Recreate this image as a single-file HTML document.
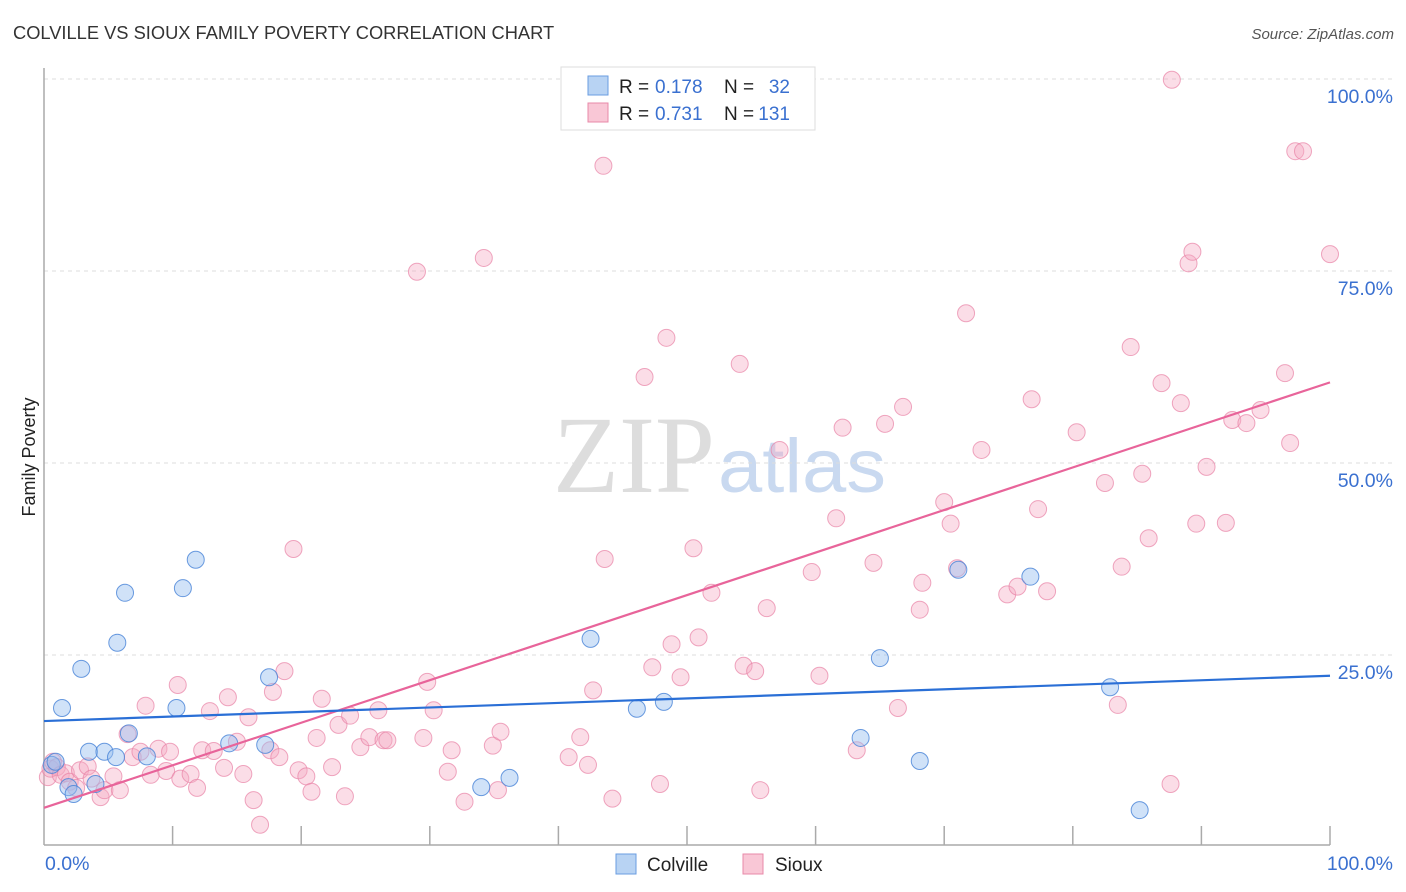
<!DOCTYPE html>
<html><head><meta charset="utf-8"><style>
body{margin:0;background:#fff;font-family:"Liberation Sans",sans-serif;}
svg{display:block}
</style></head><body>
<svg id="chart" width="1406" height="892">
<text x="13" y="39" font-size="18.3" fill="#333">COLVILLE VS SIOUX FAMILY POVERTY CORRELATION CHART</text>
<text x="1394" y="39" font-size="15" fill="#555" font-style="italic" text-anchor="end">Source: ZipAtlas.com</text>
<text x="35" y="457" font-size="18" fill="#222" text-anchor="middle" transform="rotate(-90 35 457)">Family Poverty</text>
<g>
<text x="553" y="492" font-size="110" font-family="Liberation Serif,serif" fill="#ddd" textLength="162" lengthAdjust="spacingAndGlyphs">ZIP</text>
<text x="718" y="492" font-size="76" fill="#c9d9f0" textLength="168" lengthAdjust="spacingAndGlyphs">atlas</text>
</g>
<g id="grid"></g>
<g id="axes"></g>
<g id="marks"></g>
<g>
<rect x="561" y="67" width="254" height="63" fill="#fff" stroke="#ddd"/>
<rect x="588" y="76" width="20" height="19" fill="#b8d3f3" stroke="#6a9de0"/>
<rect x="588" y="103" width="20" height="19" fill="#f9c7d6" stroke="#e88aa8"/>
<text x="619" y="93" font-size="19" fill="#222">R =</text>
<text x="655" y="93" font-size="19" fill="#3a70d0">0.178</text>
<text x="724" y="93" font-size="19" fill="#222">N =</text>
<text x="790" y="93" font-size="19" fill="#3a70d0" text-anchor="end">32</text>
<text x="619" y="120" font-size="19" fill="#222">R =</text>
<text x="655" y="120" font-size="19" fill="#3a70d0">0.731</text>
<text x="724" y="120" font-size="19" fill="#222">N =</text>
<text x="790" y="120" font-size="19" fill="#3a70d0" text-anchor="end">131</text>
</g>
<g>
<rect x="616" y="854" width="20" height="20" fill="#b8d3f3" stroke="#6a9de0"/>
<text x="647" y="871" font-size="19" fill="#222">Colville</text>
<rect x="743" y="854" width="20" height="20" fill="#f9c7d6" stroke="#e88aa8"/>
<text x="775" y="871" font-size="19" fill="#222">Sioux</text>
</g>
</svg>
<script>
const yTicks=[25,50,75,100];
const yTickLabels=["25.0%","50.0%","75.0%","100.0%"];
const xTickLabels=["0.0%","100.0%"];
const colvilleX=[0.6,0.9,1.4,1.9,2.3,2.9,3.5,4.0,4.7,5.6,5.7,6.3,6.6,8.0,10.3,10.8,11.8,14.4,17.2,17.5,34.0,36.2,42.5,46.1,48.2,63.5,65.0,68.1,71.1,76.7,82.9,85.2];
const colvilleY=[10.7,11.1,18.1,7.8,6.9,23.2,12.4,8.2,12.4,11.7,26.6,33.1,14.8,11.8,18.1,33.7,37.4,13.5,13.3,22.1,7.8,9.0,27.1,18.0,18.9,14.2,24.6,11.2,36.1,35.2,20.8,4.8];
const siouxX=[0.3,0.5,0.7,1.0,1.3,1.7,2.0,2.5,2.8,3.4,3.7,4.4,4.7,5.4,5.9,6.5,6.9,7.5,7.9,8.3,8.9,9.5,9.8,10.4,10.6,11.4,11.9,12.3,12.9,13.2,14.0,14.3,15.0,15.5,15.9,16.3,16.8,17.6,17.8,18.3,18.7,19.4,19.8,20.4,20.8,21.2,21.6,22.4,22.9,23.4,23.8,24.6,25.3,26.0,26.4,26.7,29.0,29.5,29.8,30.3,31.4,31.7,32.7,34.2,34.9,35.5,35.3,40.8,41.7,42.3,42.7,43.5,43.6,44.2,46.7,47.3,47.9,48.4,48.8,49.5,50.5,50.9,51.9,54.1,54.4,55.3,55.7,56.2,57.2,59.7,60.3,61.6,62.1,63.2,64.5,65.4,66.4,66.8,68.1,68.3,70.0,70.5,71.0,71.7,72.9,74.9,75.7,76.8,77.3,78.0,80.3,82.5,83.5,83.8,84.5,85.4,85.9,86.9,87.6,87.7,88.4,89.0,89.3,89.6,90.4,91.9,92.4,93.5,94.6,96.5,96.9,97.3,97.9,100.0];
const siouxY=[9.1,10.2,11.1,10.4,9.4,9.6,8.5,7.7,10.0,10.5,8.9,6.5,7.4,9.2,7.4,14.7,11.7,12.4,18.4,9.4,12.8,9.9,12.4,21.1,8.9,9.5,7.7,12.6,17.7,12.5,10.3,19.5,13.7,9.5,16.9,6.1,2.9,12.6,20.2,11.7,22.9,38.8,10.0,9.2,7.2,14.2,19.3,10.4,15.9,6.6,17.1,13.0,14.3,17.8,13.9,13.9,74.9,14.2,21.5,17.8,9.8,12.6,5.9,76.7,13.2,15.0,7.4,11.7,14.3,10.7,20.4,88.7,37.5,6.3,61.2,23.4,8.2,66.3,26.4,22.1,38.9,27.3,33.1,62.9,23.6,22.9,7.4,31.1,51.7,35.8,22.3,42.8,54.6,12.6,37.0,55.1,18.1,57.3,30.9,34.4,44.9,42.1,36.3,69.5,51.7,32.9,33.9,58.3,44.0,33.3,54.0,47.4,18.5,36.5,65.1,48.6,40.2,60.4,8.2,99.9,57.8,76.0,77.5,42.1,49.5,42.2,55.6,55.2,56.9,61.7,52.6,90.6,90.6,77.2];
const colvilleTrend=[16.4,22.3];
const siouxTrend=[5.1,60.5];
const NS="http://www.w3.org/2000/svg";
const X0=44,X1=1330,Y0=847,Y100=79;
const sx=v=>X0+(X1-X0)*v/100;
const sy=v=>Y0-(Y0-Y100)*v/100;
function mk(tag,attrs,parent){const e=document.createElementNS(NS,tag);for(const k in attrs)e.setAttribute(k,attrs[k]);parent.appendChild(e);return e;}
const grid=document.getElementById('grid'),axes=document.getElementById('axes'),marks=document.getElementById('marks');
yTicks.forEach((t,i)=>{
 const l=mk('line',{x1:X0,x2:1394,y1:sy(t),y2:sy(t),stroke:'#ddd','stroke-dasharray':'4,4'},grid);
 
 
 const tx=mk('text',{x:1393,y:sy(t)+24,'font-size':19.5,fill:'#3a70d0','text-anchor':'end'},axes);
 tx.textContent=yTickLabels[i];
 
 
});
const ya=mk('line',{x1:X0,x2:X0,y1:68,y2:845,stroke:'#aaa','stroke-width':1.5},axes);


const xa=mk('line',{x1:X0,x2:X1,y1:845,y2:845,stroke:'#aaa','stroke-width':1.5},axes);


for(let i=1;i<=10;i++){
 const t=mk('line',{x1:sx(i*10),x2:sx(i*10),y1:826,y2:845,stroke:'#aaa','stroke-width':1.5},axes);
 
 
}
const xl0=mk('text',{x:45,y:870,'font-size':19.5,fill:'#3a70d0'},axes);xl0.textContent=xTickLabels[0];


const xl1=mk('text',{x:1393,y:870,'font-size':19.5,fill:'#3a70d0','text-anchor':'end'},axes);xl1.textContent=xTickLabels[1];


siouxX.forEach((v,i)=>{
 const c=mk('circle',{cx:sx(v),cy:sy(siouxY[i]),r:8.5,fill:'rgba(245,170,195,0.4)',stroke:'rgba(232,130,165,0.7)','stroke-width':1},marks);
 
 
});
colvilleX.forEach((v,i)=>{
 const c=mk('circle',{cx:sx(v),cy:sy(colvilleY[i]),r:8.5,fill:'rgba(150,190,240,0.45)',stroke:'rgba(70,130,215,0.8)','stroke-width':1},marks);
 
 
});
const lp=mk('line',{x1:sx(0),y1:sy(siouxTrend[0]),x2:sx(100),y2:sy(siouxTrend[1]),stroke:'#e8649a','stroke-width':2.2},marks);


const lb=mk('line',{x1:sx(0),y1:sy(colvilleTrend[0]),x2:sx(100),y2:sy(colvilleTrend[1]),stroke:'#2a6fd6','stroke-width':2.2},marks);


</script>
</body></html>
